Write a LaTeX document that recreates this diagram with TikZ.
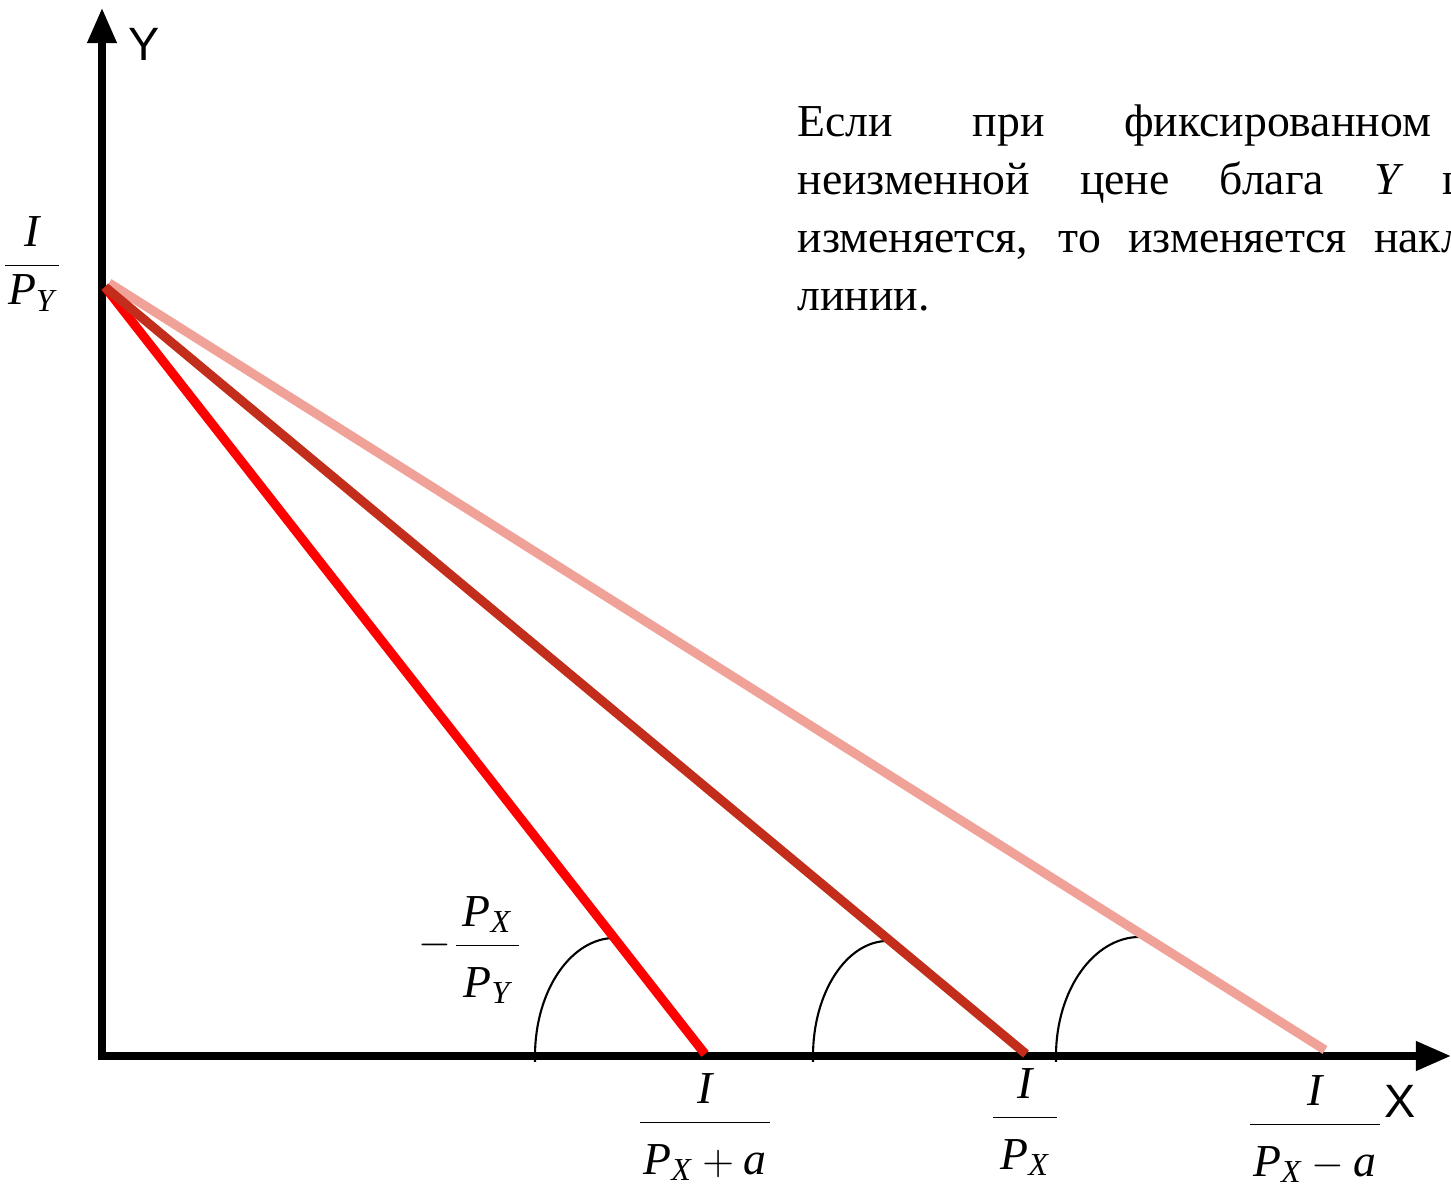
\documentclass[tikz,border=0pt]{standalone}
\usepackage{amsmath}
\usepackage{fontspec}
\setmainfont{Liberation Serif}
\setsansfont{Liberation Sans}
\usepackage{tikz}
\usetikzlibrary{arrows.meta}

\definecolor{lineA}{RGB}{255,0,0}
\definecolor{lineB}{RGB}{195,46,28}
\definecolor{lineC}{RGB}{240,162,152}

% struts that open up the fractions
\newcommand{\nst}{\rule[-0.13cm]{0pt}{0.1cm}}
\newcommand{\dst}{\rule{0pt}{0.46cm}}

\tikzset{
  axis/.style={line width=2pt,-{Triangle[length=3.5mm,width=2.8mm]}},
  budget/.style={line width=2.6pt},
  angarc/.style={line width=0.6pt},
  lbl/.style={inner sep=0pt,anchor=base,font=\fontsize{13}{15}\selectfont},
  axlbl/.style={inner sep=0pt,font=\sffamily\fontsize{13.3}{15}\selectfont},
  txt/.style={inner sep=0pt,anchor=base west,font=\fontsize{13}{16}\selectfont},
}

\begin{document}
\begin{tikzpicture}[x=0.01cm,y=-0.01cm]
		\useasboundingbox (0,0) rectangle (1451,1189);
		% axes
		\coordinate (O) at (102,1056);
		\coordinate (ytop) at (102,8);
		\coordinate (xend) at (1451,1056);
		\draw[axis] (102,1060) -- (ytop);
		\draw[axis] (98,1056) -- (xend);
		\node[axlbl] (ylab) at (144,44) {Y};
		\node[axlbl] (xlab) at (1400,1101) {X};
		
		% budget lines: common point on the Y axis
		\coordinate (top) at (105,287);
		\coordinate (topc) at (109,283);
		\coordinate (xa) at (705,1054);
		\coordinate (xb) at (1026,1054);
		\coordinate (xc) at (1325,1050);
		
		% angles of slope
		\draw[angarc] (535,1062) -- (535,1056) arc[start angle=180,end angle=90,x radius=0.80cm,y radius=1.18cm];
		\draw[angarc] (813,1062) -- (813,1056) arc[start angle=180,end angle=90,x radius=0.75cm,y radius=1.15cm];
		\draw[angarc] (1056,1062) -- (1056,1056) arc[start angle=180,end angle=90,x radius=0.84cm,y radius=1.19cm];
		
		\draw[budget,lineC] (topc) -- (xc);
		\draw[budget,lineA] (top) -- (xa);
		\draw[budget,lineB] (top) -- (xb);
		
		% intercepts and slope (base = fraction bar + axis height)
		\node[lbl] (iy) at (32,276) {$\displaystyle\frac{\textit{I}\nst}{\hspace{0.03cm}\textit{P}_{\textit{Y}}\hspace{0.03cm}}$};
		\node[lbl] (slope) at (471,956) {$\displaystyle-\frac{\,\textit{P}_{\textit{X}}\nst\,}{\textit{P}_{\textit{Y}}\dst}$};
		\node[lbl] (ia) at (705,1133) {$\displaystyle\frac{\textit{I}\nst}{\hspace{0.04cm}\textit{P}_{\textit{X}}+\textit{a}\dst\hspace{0.04cm}}$};
		\node[lbl] (ib) at (1025,1128) {$\displaystyle\frac{\textit{I}\nst}{\,\textit{P}_{\textit{X}}\dst\,}$};
		\node[lbl] (ic) at (1315,1135) {$\displaystyle\frac{\textit{I}\nst}{\hspace{0.03cm}\textit{P}_{\textit{X}}-\textit{a}\dst\hspace{0.03cm}}$};
		
		% text, cut by the right edge
		\begin{scope}
			\clip (0,0) rectangle (1451,1189);
			\node[txt] (t1) at (797,137) {\makebox[6.33cm][s]{Если при фиксированном}};
			\node[txt] (t2) at (797,195) {\makebox[6.06cm][s]{неизменной цене блага \textit{Y}}\hspace{0.38cm}ц};
			\node[txt] (t3) at (797,253) {\makebox[6.43cm][s]{изменяется, то изменяется нак}л};
			\node[txt] (t4) at (797,311) {линии.};
		\end{scope}
	\end{tikzpicture}
\end{document}
